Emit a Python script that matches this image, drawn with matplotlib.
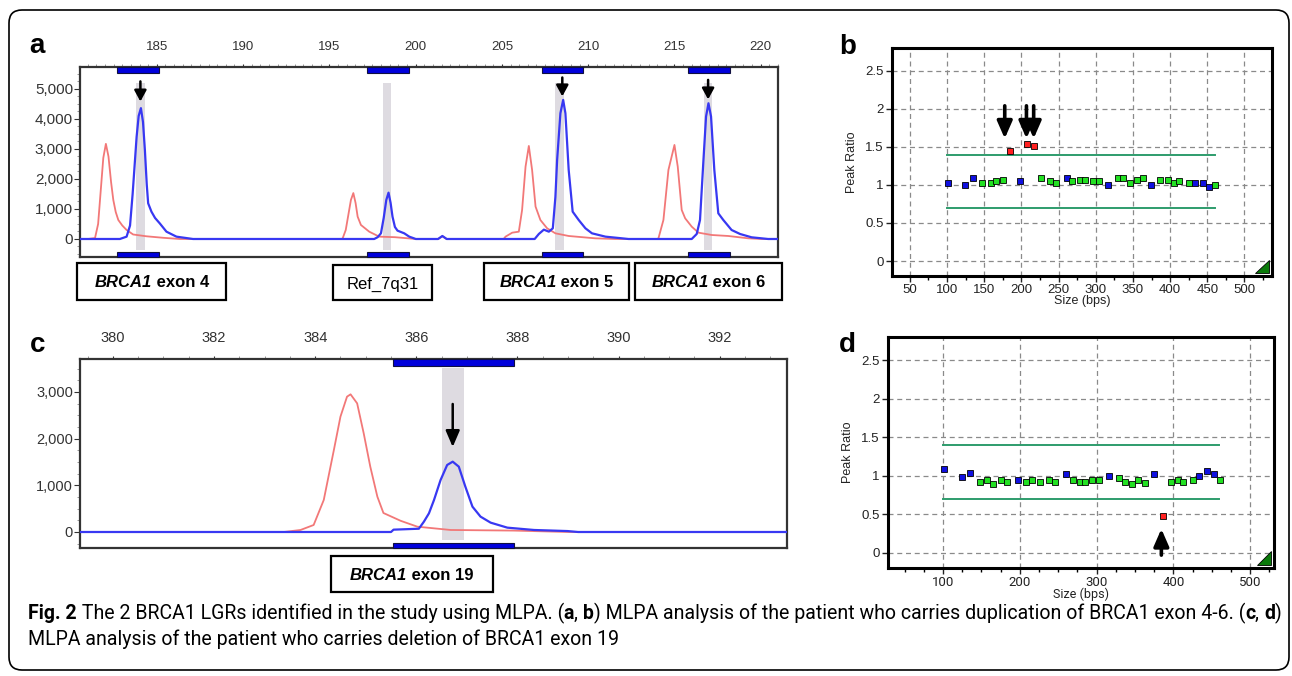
import matplotlib
matplotlib.use("Agg")
import matplotlib.pyplot as plt
from matplotlib.patches import Rectangle, FancyBboxPatch, Polygon
from matplotlib.ticker import MultipleLocator, FuncFormatter
import matplotlib.transforms as mtransforms

# ---------------- DATA ----------------
# Panel a: electropherogram, patient with BRCA1 exon 4-6 duplication
a_red_x = [180.55, 181.0, 181.42, 181.6, 181.75, 181.9, 182.05, 182.2, 182.35, 182.48, 182.62,
           182.77, 183.0, 183.25, 183.63, 184.4, 185.37, 186.33, 195.7, 195.77, 195.95, 196.1,
           196.25, 196.39, 196.52, 196.64, 196.83, 197.31, 197.89, 198.8, 200.0, 201.3, 201.55,
           201.8, 205.1, 205.21, 205.6, 205.98, 206.17, 206.37, 206.56, 206.75, 206.95, 207.23,
           207.62, 208.1, 208.87, 210.41, 211.57, 214.0, 214.07, 214.36, 214.65, 215.0, 215.19,
           215.42, 215.62, 216.0, 216.39, 217.16, 218.12, 219.28, 220.05, 221.0]
a_red_y = [0, 0, 30, 500, 1600, 2700, 3170, 2750, 1900, 1300, 900,
           633, 450, 300, 150, 90, 40, 0, 0, 20, 300, 800,
           1300, 1530, 1200, 744, 467, 244, 78, 60, 0, 0, 90,
           0, 0, 78, 211, 244, 967, 2411, 3100, 2300, 1078, 633,
           356, 189, 100, 22, 0, 0, 20, 633, 2300, 3133, 2411,
           967, 689, 411, 211, 133, 100, 22, 0, 0]
a_blue_x = [180.55, 182.86, 183.25, 183.45, 183.6, 183.83, 183.95, 184.08, 184.2, 184.31, 184.42,
            184.5, 184.69, 184.9, 185.17, 185.56, 186.14, 187.1, 197.6, 197.8, 197.99, 198.15,
            198.3, 198.43, 198.55, 198.66, 198.8, 198.95, 199.34, 199.63, 200.01, 201.3, 201.55,
            201.8, 206.9, 207.14, 207.43, 207.72, 207.95, 208.1, 208.2, 208.39, 208.55, 208.68,
            208.87, 209.1, 209.45, 209.84, 210.22, 211.0, 212.34, 216.0, 216.29, 216.48, 216.68,
            216.83, 216.97, 217.12, 217.31, 217.54, 217.83, 218.31, 218.8, 219.47, 220.43, 221.0]
a_blue_y = [0, 0, 78, 450, 1500, 3400, 4100, 4360, 3900, 2967, 1800,
            1189, 911, 700, 522, 244, 78, 0, 0, 60, 189, 700,
            1300, 1544, 1200, 744, 400, 278, 189, 78, 0, 0, 100,
            0, 0, 167, 311, 244, 356, 1400, 2633, 4189, 4633, 4189,
            2300, 911, 633, 356, 189, 78, 0, 0, 167, 633, 2633,
            4078, 4522, 4078, 2300, 856, 633, 300, 167, 56, 0, 0]
a_xticks = [185, 190, 195, 200, 205, 210, 215, 220]
a_yticks = [0, 1000, 2000, 3000, 4000, 5000]
a_probe_bins = [(182.7, 185.1), (197.2, 199.6), (207.3, 209.7), (215.8, 218.2)]
a_probe_bands = [(183.8, 184.3), (198.1, 198.6), (208.1, 208.6), (216.7, 217.15)]
a_arrow_x = [184.05, 208.5, 216.95]
a_arrow_tail = [5250, 5380, 5300]
a_arrow_tip = [4580, 4750, 4650]

# Panel c: electropherogram, patient with BRCA1 exon 19 deletion
c_red_x = [379.35, 383.38, 383.71, 383.97, 384.17, 384.37, 384.5, 384.63, 384.7, 384.83, 384.96,
           385.09, 385.23, 385.35, 385.69, 386.02, 386.68, 387.93, 389.0, 393.33]
c_red_y = [0, 0, 43, 150, 686, 1757, 2471, 2900, 2950, 2757, 2114,
           1400, 757, 407, 240, 114, 43, 30, 0, 0]
c_blue_x = [379.35, 385.5, 385.55, 386.05, 386.15, 386.25, 386.35, 386.48, 386.61, 386.72, 386.84,
            386.97, 387.11, 387.27, 387.47, 387.8, 388.33, 388.99, 389.2, 393.33]
c_blue_y = [0, 0, 50, 70, 221, 400, 686, 1114, 1436, 1507, 1400,
            971, 543, 329, 200, 93, 43, 20, 0, 0]
c_xticks = [380, 382, 384, 386, 388, 390, 392]
c_yticks = [0, 1000, 2000, 3000]
c_probe_bin = (385.53, 387.93)
c_probe_band = (386.5, 386.95)
c_arrow_x = 386.72
c_arrow_tail = 2743
c_arrow_tip = 1821

# Panel b: peak ratios (R = reference probe, T = target probe, X = aberrant)
b_size = [100.8, 124.6, 135.2, 147.2, 159.1, 165.7, 175.9, 184.3, 198.0, 207.7, 216.5, 226.2,
          238.6, 246.6, 260.7, 268.6, 279.2, 285.9, 296.0, 304.0, 315.9, 329.6, 337.1, 346.4,
          354.9, 363.2, 374.6, 386.6, 396.7, 405.6, 412.2, 425.4, 433.8, 444.0, 452.8, 460.8]
b_ratio = [1.03, 1.00, 1.09, 1.03, 1.03, 1.05, 1.07, 1.44, 1.05, 1.54, 1.51, 1.09,
           1.05, 1.03, 1.09, 1.05, 1.07, 1.07, 1.05, 1.05, 1.00, 1.09, 1.09, 1.03,
           1.07, 1.09, 1.00, 1.07, 1.07, 1.03, 1.05, 1.03, 1.03, 1.02, 0.97, 1.00]
b_type = ['R', 'R', 'R', 'T', 'T', 'T', 'T', 'X', 'R', 'X', 'X', 'T',
          'T', 'T', 'R', 'T', 'T', 'T', 'T', 'T', 'R', 'T', 'T', 'T',
          'T', 'T', 'R', 'T', 'T', 'T', 'T', 'T', 'R', 'R', 'R', 'T']
b_xticks = [50, 100, 150, 200, 250, 300, 350, 400, 450, 500]
b_arrow_x = [177.6, 206.8, 216.5]
b_arrow_tail = 2.04
b_arrow_tip = 1.61

# Panel d: peak ratios
d_size = [100.9, 124.3, 134.8, 147.8, 157.8, 164.8, 175.2, 183.5, 197.4, 207.8, 215.7, 225.7,
          237.8, 246.1, 260.0, 268.7, 278.3, 285.2, 293.9, 303.5, 315.7, 329.1, 337.4, 345.7,
          354.3, 363.0, 374.3, 386.5, 396.5, 405.7, 412.2, 425.2, 433.9, 444.3, 453.0, 460.9]
d_ratio = [1.09, 0.99, 1.03, 0.92, 0.95, 0.89, 0.94, 0.92, 0.95, 0.92, 0.94, 0.92,
           0.95, 0.92, 1.02, 0.94, 0.92, 0.92, 0.95, 0.95, 1.00, 0.97, 0.92, 0.89,
           0.94, 0.90, 1.02, 0.48, 0.92, 0.95, 0.92, 0.95, 1.00, 1.06, 1.02, 0.95]
d_type = ['R', 'R', 'R', 'T', 'T', 'T', 'T', 'T', 'R', 'T', 'T', 'T',
          'T', 'T', 'R', 'T', 'T', 'T', 'T', 'T', 'R', 'T', 'T', 'T',
          'T', 'T', 'R', 'X', 'T', 'T', 'T', 'T', 'R', 'R', 'R', 'T']
d_xticks = [100, 200, 300, 400, 500]
d_arrow_x = 384.3
d_arrow_tail = -0.03
d_arrow_tip = 0.31

ratio_yticks = [0, 0.5, 1, 1.5, 2, 2.5]
ratio_ylabels = ['0', '0.5', '1', '1.5', '2', '2.5']
upper_limit = 1.4
lower_limit = 0.7
limit_range = (100, 460)

# ---------------- STYLE ----------------
plt.rcParams['font.family'] = ['Liberation Sans', 'DejaVu Sans']
SANS = ['Liberation Sans', 'DejaVu Sans']
NARROW = ['Liberation Sans Narrow', 'Roboto', 'DejaVu Sans']
W, H = 1292, 676
fig = plt.figure(figsize=(W / 100, H / 100), dpi=100)
renderer = fig.canvas.get_renderer()

RED = '#f27878'
BLUE = '#3838f2'
BAR = '#0000dc'
BAND = '#dedbe1'
TYPE_COLOR = {'R': '#1010e0', 'T': '#22e022', 'X': '#ff2020'}
LIMIT = '#2e9c6c'


def ax_px(l, t, r, b):
    return fig.add_axes([l / W, 1 - b / H, (r - l) / W, (b - t) / H])


def advance(s, size, family, weight, style):
    """Horizontal advance of a string, including leading/trailing spaces."""
    def w(txt):
        t = fig.text(0, 0, txt, fontsize=size, family=family, weight=weight, style=style)
        v = t.get_window_extent(renderer).width
        t.remove()
        return v
    return w('|' + s + '|') - w('||')


def runs_text(x_px, y_px, runs, size, family, ha='left'):
    widths = [advance(s, size, family, wt, st) for s, wt, st in runs]
    total = sum(widths)
    x = x_px - total / 2 if ha == 'center' else x_px
    texts = []
    for (s, wt, st), w in zip(runs, widths):
        t = fig.text(x / W, 1 - y_px / H, s, fontsize=size, family=family, weight=wt, style=st,
                     va='baseline', ha='left', color='black')
        texts.append(t)
        x += w
    return texts, total


def label_box(l, t, r, b, runs):
    rect = Rectangle((l / W, 1 - b / H), (r - l) / W, (b - t) / H, transform=fig.transFigure,
                     fc='white', ec='black', lw=1.6)
    fig.patches.append(rect)
    runs_text((l + r) / 2, (t + b) / 2 + 6, runs, 12, SANS, ha='center')


def trace_axes(ax, xlim, ylim, xticks, yticks, xlabsize, ylabsize):
    ax.set_xlim(*xlim)
    ax.set_ylim(*ylim)
    ax.xaxis.tick_top()
    ax.set_xticks(xticks)
    ax.set_yticks(yticks)
    ax.yaxis.set_major_formatter(FuncFormatter(lambda v, p: f"{int(v):,}"))
    ax.xaxis.set_minor_locator(MultipleLocator(0.5))
    ax.yaxis.set_minor_locator(MultipleLocator(250))
    ax.tick_params(axis='x', which='major', length=2, pad=8, labelsize=xlabsize,
                   colors='#333333')
    ax.tick_params(axis='x', which='minor', length=2, color='#888888')
    ax.tick_params(axis='y', which='major', length=4, pad=1, labelsize=ylabsize,
                   colors='#333333')
    ax.tick_params(axis='y', which='minor', length=2, color='#888888')
    for s in ax.spines.values():
        s.set_color('#333333')
        s.set_linewidth(1.6)


def probe_marks(ax, x0, x1, bx0, bx1, top_h, bot_h, band_lo, band_hi):
    tr = mtransforms.blended_transform_factory(ax.transData, ax.transAxes)
    ax.add_patch(Rectangle((bx0, band_lo), bx1 - bx0, band_hi - band_lo, transform=tr,
                           fc=BAND, ec='none', zorder=0))
    ax.add_patch(Rectangle((x0, 1 - top_h), x1 - x0, top_h, transform=tr, fc=BAR,
                           ec='#101040', lw=0.8, zorder=5, clip_on=False))
    ax.add_patch(Rectangle((x0, 0), x1 - x0, bot_h, transform=tr, fc=BAR,
                           ec='#101040', lw=0.8, zorder=5, clip_on=False))


# ---------------- PANEL a ----------------
ax_a = ax_px(80, 67, 778, 257)
trace_axes(ax_a, (180.55, 221.0), (-600, 5730), a_xticks, a_yticks, 9.5, 11)
for (x0, x1), (b0, b1) in zip(a_probe_bins, a_probe_bands):
    probe_marks(ax_a, x0, x1, b0, b1, 0.032, 0.027, 0.037, 0.916)
ax_a.plot(a_red_x, a_red_y, color=RED, lw=1.3, zorder=2)
ax_a.plot(a_blue_x, a_blue_y, color=BLUE, lw=1.6, zorder=3)
for x, yt, yp in zip(a_arrow_x, a_arrow_tail, a_arrow_tip):
    ax_a.annotate('', xy=(x, yp), xytext=(x, yt),
                  arrowprops=dict(arrowstyle='-|>,head_width=0.3,head_length=0.55', lw=1.8,
                                  color='black', mutation_scale=12, shrinkA=0, shrinkB=0),
                  zorder=6)

B, I, N = 'bold', 'italic', 'normal'
label_box(77, 263, 226, 300, [('BRCA1', B, I), (' exon 4', B, N)])
label_box(333, 265, 432, 300, [('Ref_7q31', N, N)])
label_box(484, 263, 629, 300, [('BRCA1', B, I), (' exon 5', B, N)])
label_box(635, 263, 782, 300, [('BRCA1', B, I), (' exon 6', B, N)])

# ---------------- PANEL c ----------------
ax_c = ax_px(80, 359, 787, 548)
trace_axes(ax_c, (379.35, 393.33), (-343, 3707), c_xticks, c_yticks, 10.5, 10.5)
probe_marks(ax_c, c_probe_bin[0], c_probe_bin[1], c_probe_band[0], c_probe_band[1],
            0.035, 0.027, 0.042, 0.952)
ax_c.plot(c_red_x, c_red_y, color=RED, lw=1.3, zorder=2)
ax_c.plot(c_blue_x, c_blue_y, color=BLUE, lw=1.6, zorder=3)
ax_c.annotate('', xy=(c_arrow_x, c_arrow_tip), xytext=(c_arrow_x, c_arrow_tail),
              arrowprops=dict(arrowstyle='-|>,head_width=0.3,head_length=0.7', lw=1.8,
                              color='black', mutation_scale=14, shrinkA=0, shrinkB=0),
              zorder=6)
label_box(331, 556, 493, 592, [('BRCA1', B, I), (' exon 19', B, N)])


# ---------------- PANELS b, d ----------------
def ratio_axes(ax, xlim, xticks, sizes, ratios, types, xlabelfont):
    ax.set_xlim(*xlim)
    ax.set_ylim(-0.197, 2.80)
    ax.set_xticks(xticks)
    ax.xaxis.set_minor_locator(MultipleLocator(25))
    ax.set_yticks(ratio_yticks)
    ax.set_yticklabels(ratio_ylabels)
    ax.grid(True, which='major', ls=(0, (4, 3)), color='#8a8a8a', lw=0.9)
    ax.set_axisbelow(True)
    for s in ax.spines.values():
        s.set_color('black')
        s.set_linewidth(2.2)
    ax.tick_params(axis='both', which='major', length=4, width=1, labelsize=9.5,
                   colors='#222222', pad=2)
    ax.tick_params(axis='x', which='minor', length=3, width=1)
    for lab in ax.get_xticklabels():
        lab.set_family(xlabelfont)
    ax.set_xlabel('Size (bps)', fontsize=9, labelpad=-1, color='#222222', family=xlabelfont)
    ax.set_ylabel('Peak Ratio', fontsize=9, labelpad=5, color='#222222')
    ax.plot(limit_range, [upper_limit, upper_limit], color=LIMIT, lw=1.4, zorder=2)
    ax.plot(limit_range, [lower_limit, lower_limit], color=LIMIT, lw=1.4, zorder=2)
    for t in ['R', 'T', 'X']:
        xs = [s for s, k in zip(sizes, types) if k == t]
        ys = [r for r, k in zip(ratios, types) if k == t]
        ax.plot(xs, ys, ls='none', marker='s', ms=4.6, mfc=TYPE_COLOR[t], mec='black',
                mew=0.6, zorder=4)
    ax.add_patch(Polygon([(0.955, 0.012), (0.992, 0.012), (0.992, 0.072)], closed=True,
                         transform=ax.transAxes, fc='#0a7a0a', ec='black', lw=0.6, zorder=5))


ax_b = ax_px(892, 48, 1272, 276)
ratio_axes(ax_b, (26, 537), b_xticks, b_size, b_ratio, b_type, SANS)
for x in b_arrow_x:
    ax_b.annotate('', xy=(x, b_arrow_tip), xytext=(x, b_arrow_tail),
                  arrowprops=dict(arrowstyle='-|>,head_width=0.35,head_length=0.8', lw=2.6,
                                  color='black', mutation_scale=13, shrinkA=0, shrinkB=0),
                  zorder=6)

ax_d = ax_px(888, 337, 1274, 568)
ratio_axes(ax_d, (28.3, 531), d_xticks, d_size, d_ratio, d_type, NARROW)
ax_d.annotate('', xy=(d_arrow_x, d_arrow_tip), xytext=(d_arrow_x, d_arrow_tail),
              arrowprops=dict(arrowstyle='-|>,head_width=0.35,head_length=0.8', lw=2.6,
                              color='black', mutation_scale=13, shrinkA=0, shrinkB=0),
              zorder=6)

# ---------------- panel letters ----------------
for letter, x, y in [('a', 29, 53), ('b', 839, 54), ('c', 30, 352), ('d', 839, 352)]:
    fig.text(x / W, 1 - y / H, letter, fontsize=20, weight='bold', va='baseline', ha='left')

# ---------------- caption ----------------
line1 = [('Fig. 2', B, N), (' The 2 BRCA1 LGRs identified in the study using MLPA. (', N, N),
         ('a', B, N), (', ', N, N), ('b', B, N),
         (') MLPA analysis of the patient who carries duplication of BRCA1 exon 4-6. (', N, N),
         ('c', B, N), (', ', N, N), ('d', B, N), (')', N, N)]
line2 = [('MLPA analysis of the patient who carries deletion of BRCA1 exon 19', N, N)]
total = sum(advance(s, 12, NARROW, wt, st) for s, wt, st in line1)
cap_size = 12 * 1247 / total
runs_text(28, 619, line1, cap_size, NARROW)
runs_text(28, 645, line2, cap_size, NARROW)

# ---------------- outer frame ----------------
frame = FancyBboxPatch((0.09, (H - 670) / 100), 12.80, 6.60,
                       boxstyle='round,pad=0,rounding_size=0.13',
                       transform=fig.dpi_scale_trans, fc='none', ec='black', lw=1.2)
fig.patches.append(frame)

fig.savefig('out.png', dpi=100)
